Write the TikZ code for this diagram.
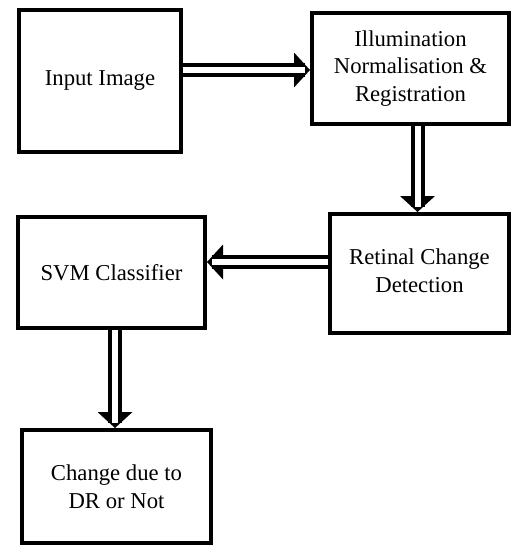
\documentclass[tikz,border=0pt]{standalone}
\usepackage{fontspec}
\setmainfont{Liberation Serif}
\begin{document}
\begin{tikzpicture}[x=1pt,y=1pt,
  box/.style={draw, line width=4pt, align=center, inner sep=0pt,
    font=\fontsize{22.7}{27.5}\selectfont},
  shaft/.style={draw, line width=4pt, double=white, double distance=6pt},
  head/.style={fill=black}]
\useasboundingbox (0,0) rectangle (511,-546);

% process blocks
\node[box, minimum width=162, minimum height=142] (inp) at (100,-81) {Input Image};
\node[box, minimum width=197, minimum height=111] (ill) at (410.5,-68.5) {Illumination\\Normalisation \&\\Registration};
\node[box, minimum width=179, minimum height=119] (ret) at (419.5,-273.5) {};
\node[font=\fontsize{22.7}{27.5}\selectfont, align=center, inner sep=0pt] (rett) at ([yshift=3]ret.center) {Retinal Change\\Detection};
\node[box, minimum width=187, minimum height=111] (svm) at (111.5,-272.5) {SVM Classifier};
\node[box, minimum width=189, minimum height=113] (out) at (116.5,-486.5) {Change due to\\DR or Not};

% tip points of the double arrows
\coordinate (t1) at ([yshift=-1.5]ill.west);
\coordinate (t2) at ([xshift=-2]ret.north);
\coordinate (t3) at ([yshift=10.5]svm.east);
\coordinate (t4) at ([xshift=-1.5]out.north);

% Input Image -> Illumination
\fill[head] (t1) -- ++(-16,17.5) -- ++(0,-35) -- cycle;
\draw[shaft] (inp.east |- t1) -- ([xshift=-5]t1);
% Illumination -> Retinal Change
\fill[head] (t2) -- ++(17.5,16) -- ++(-35,0) -- cycle;
\draw[shaft] (ill.south -| t2) -- ([yshift=5]t2);
% Retinal Change -> SVM
\fill[head] (t3) -- ++(16,17.5) -- ++(0,-35) -- cycle;
\draw[shaft] (ret.west |- t3) -- ([xshift=5]t3);
% SVM -> decision
\fill[head] (t4) -- ++(17.5,16) -- ++(-35,0) -- cycle;
\draw[shaft] (svm.south -| t4) -- ([yshift=5]t4);
\end{tikzpicture}
\end{document}
